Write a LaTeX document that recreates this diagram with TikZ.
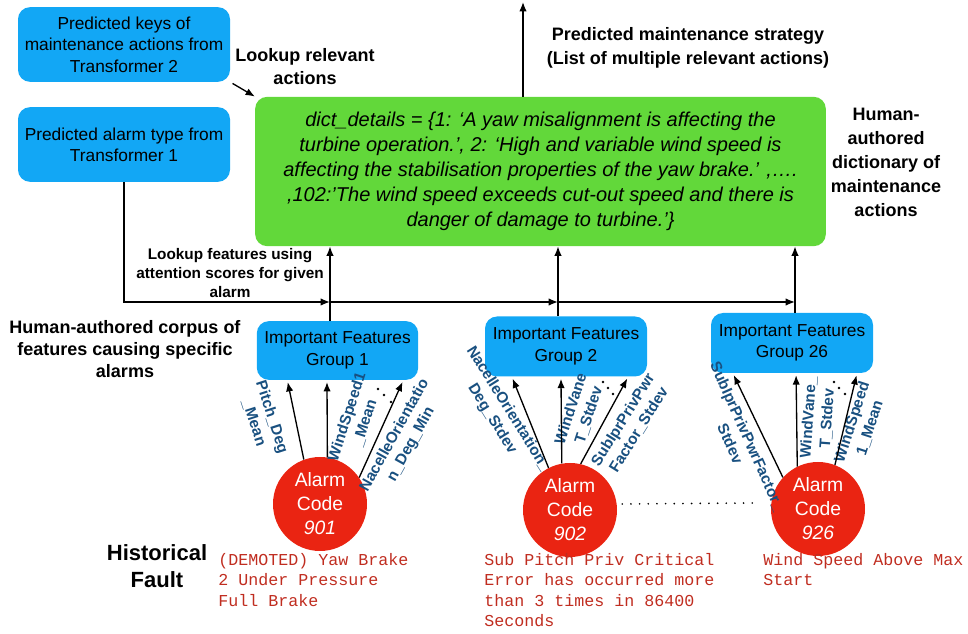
\documentclass[tikz,border=0pt]{standalone}
\usepackage{fontspec}
\setmainfont{Liberation Sans}
\setmonofont{Liberation Mono}
\usetikzlibrary{calc, arrows.meta}
\definecolor{blue1}{RGB}{18,167,245}
\definecolor{green1}{RGB}{98,216,58}
\definecolor{red1}{RGB}{234,36,18}
\definecolor{blue2}{RGB}{25,80,128}
\definecolor{red2}{RGB}{192,45,32}

\begin{document}
\begin{tikzpicture}[x=0.75pt, y=-0.75pt]
\tikzstyle{box} = [rounded corners=9pt, align=center, inner sep=0pt, font=\fontsize{13}{16}\selectfont]
\tikzstyle{bluebox} = [box, fill=blue1]
\tikzstyle{greenbox} = [box, fill=green1, font=\fontsize{15}{18.75}\selectfont\itshape]
\tikzstyle{alarm} = [circle, fill=red1, text=white, minimum size=70.5pt, inner sep=0pt, align=center, font=\fontsize{14.5}{18}\selectfont]
\tikzstyle{note} = [align=center, font=\bfseries\fontsize{13.5}{17.5}\selectfont]
\tikzstyle{feat} = [align=center, inner sep=0pt, text=blue2, font=\bfseries\fontsize{11.5}{14}\selectfont]
\tikzstyle{fault} = [anchor=north west, align=left, inner sep=0pt, text=red2, font=\ttfamily\fontsize{12.5}{15.4}\selectfont]
\tikzstyle{arrow} = [-{Latex[length=7pt, width=5.5pt]}, line width=1pt]
\tikzstyle{dotline} = [line width=1.4pt, line cap=round, dash pattern=on 0pt off 6.5pt]

\useasboundingbox (0,0) rectangle (968,634);

\node [bluebox, minimum width=159pt, minimum height=56pt] (keys) at (124,44.5) {Predicted keys of\\maintenance actions from\\Transformer 2};
\node [bluebox, minimum width=159pt, minimum height=56pt] (alarmtype) at (124,144.5) {Predicted alarm type from\\Transformer 1};
\node [greenbox, minimum width=428pt, minimum height=112pt] (dict) at (540.5,171.5) {dict\_details = \{1: ‘A yaw misalignment is affecting the\\turbine operation.’, 2: ‘High and variable wind speed is\\affecting the stabilisation properties of the yaw brake.’ ,….\\,102:’The wind speed exceeds cut-out speed and there is\\danger of damage to turbine.’\}};

\node [bluebox, minimum width=121pt, minimum height=44pt] (grp1) at (337.5,350.5) {Important Features\\Group 1};
\node [bluebox, minimum width=121.5pt, minimum height=45pt] (grp2) at (566,346.5) {Important Features\\Group 2};
\node [bluebox, minimum width=121.5pt, minimum height=45pt] (grp26) at (792,343) {Important Features\\Group 26};

\node [alarm] (c901) at (320,504) {Alarm\\Code\\\textit{901}};
\node [alarm] (c902) at (570,510) {Alarm\\Code\\\textit{902}};
\node [alarm] (c926) at (818,509) {Alarm\\Code\\\textit{926}};

\node [note] (lookup1) at (305,66.5) {Lookup relevant\\actions};
\node [note] (strategy) at (688,48) {Predicted maintenance strategy\\(List of multiple relevant actions)};
\node [note, font=\bfseries\fontsize{13.5}{18}\selectfont] (dictnote) at (886,162) {Human-\\authored\\dictionary of\\maintenance\\actions};
\node [note, font=\bfseries\fontsize{11.5}{14.2}\selectfont] (lookup2) at (230,273) {Lookup features using\\attention scores for given\\alarm};
\node [note, font=\bfseries\fontsize{13.5}{16.5}\selectfont] (corpus) at (125,349) {Human-authored corpus of\\features causing specific\\alarms};
\node [note, font=\bfseries\fontsize{16.5}{20}\selectfont] (hist) at (157,566) {Historical\\Fault};

\node [fault] (f901) at (218,553) {(DEMOTED) Yaw Brake\\2 Under Pressure\\Full Brake};
\node [fault] (f902) at (484,553) {Sub Pitch Priv Critical\\Error has occurred more\\than 3 times in 86400\\Seconds};
\node [fault] (f926) at (763,553) {Wind Speed Above Max\\Start};

\node [feat, rotate=-72] (p1a) at (263,420) {Pitch\_Deg\\\_Mean};
\node [feat, rotate=72] (p1b) at (356,420) {WindSpeed1\\\_Mean};
\node [feat, rotate=61] (p1c) at (403,440) {NacelleOrientatio\\n\_Deg\_Min};
\node [feat, rotate=-58] (p2a) at (500,414) {NacelleOrientation\_\\Deg\_Stdev};
\node [feat, rotate=72] (p2b) at (580,412) {WindVane\\T\_Stdev};
\node [feat, rotate=58] (p2c) at (631,425) {SubIprPrivPwr\\Factor\_Stdev};
\node [feat, rotate=-66] (p26a) at (739,440) {SubIprPrivPwrFactor\_\\Stdev};
\node [feat, rotate=86] (p26b) at (818,418) {WindVane\_\\T\_Stdev};
\node [feat, rotate=72] (p26c) at (861,425) {WindSpeed\\1\_Mean};

\coordinate (out) at (523,2);
\coordinate (j1) at (330,302);
\coordinate (j2) at (558,302);
\coordinate (j26) at (795,302);

\draw [arrow] (dict.north -| out) -- (out);
\draw [arrow, shorten <=2pt] (keys.south east) -- (dict.north west);
\draw [arrow] (alarmtype) |- (j1);
\draw [arrow] (j1) -- (j2);
\draw [arrow] (j2) -- (j26);
\draw [arrow] (grp1.north -| j1) -- (dict.south -| j1);
\draw [arrow] (grp2.north -| j2) -- (dict.south -| j2);
\draw [arrow] (grp26.north -| j26) -- (dict.south -| j26);

\draw [arrow, shorten >=1.5pt] (c901.110) -- ($(grp1.south west)!0.19!(grp1.south east)$);
\draw [arrow, shorten >=1.5pt] (c901.81) -- ($(grp1.south west)!0.435!(grp1.south east)$);
\draw [arrow, shorten >=1.5pt] (c901.34) -- ($(grp1.south west)!0.907!(grp1.south east)$);
\draw [arrow, shorten >=1.5pt] (c902.117) -- ($(grp2.south west)!0.167!(grp2.south east)$);
\draw [arrow, shorten >=1.5pt] (c902.100) -- ($(grp2.south west)!0.469!(grp2.south east)$);
\draw [arrow, shorten >=1.5pt] (c902.77) -- ($(grp2.south west)!0.883!(grp2.south east)$);
\draw [arrow, shorten >=1.5pt] (c926.138) -- ($(grp26.south west)!0.136!(grp26.south east)$);
\draw [arrow, shorten >=1.5pt] (c926.116) -- ($(grp26.south west)!0.525!(grp26.south east)$);
\draw [arrow, shorten >=1.5pt] (c926.69) -- ($(grp26.south west)!0.9!(grp26.south east)$);

\foreach \x/\y in {378/389, 384/395, 391/402, 603/382, 608/388, 613/394, 834/382, 839/388, 845/394}
  \fill (\x,\y) circle (1pt);

\draw [dotline] ($(c902.east)+(5,-6)$) -- ($(c926.west)+(-18,-6)$);
\end{tikzpicture}
\end{document}
